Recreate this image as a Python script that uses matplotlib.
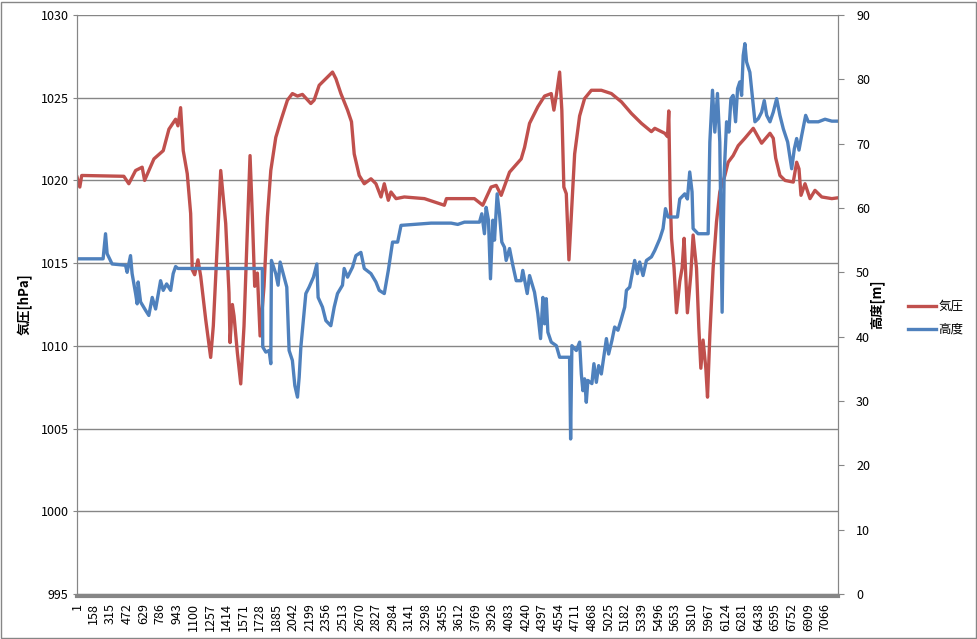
import matplotlib
matplotlib.use('Agg')
import matplotlib.pyplot as plt
from matplotlib.patches import Rectangle

plt.rcParams['font.family'] = ['Noto Sans CJK JP', 'DejaVu Sans']

n_samples = 7188
tick_labels = list(range(1, 7067, 157))

# 気圧 [hPa] (sample index, value)
pres_idx = [1, 27, 45, 443, 490, 554, 616, 639, 727, 815, 869, 932, 954, 979, 1004,
            1042, 1074, 1089, 1112, 1143, 1169, 1216, 1263, 1288, 1326, 1358, 1405,
            1436, 1446, 1468, 1484, 1515, 1547, 1578, 1604, 1635, 1657, 1679, 1704,
            1730, 1767, 1799, 1831, 1878, 1925, 1988, 2035, 2083, 2130, 2209, 2240,
            2288, 2366, 2414, 2446, 2493, 2556, 2593, 2619, 2666, 2714, 2777, 2824,
            2872, 2903, 2941, 2966, 3014, 3092, 3282, 3470, 3490, 3660, 3754, 3833,
            3912, 3960, 4007, 4086, 4196, 4228, 4275, 4353, 4417, 4480, 4505, 4528,
            4559, 4580, 4599, 4622, 4647, 4669, 4701, 4748, 4795, 4859, 4953, 5048,
            5143, 5237, 5332, 5426, 5458, 5552, 5578, 5590, 5603, 5616, 5640, 5663,
            5694, 5716, 5735, 5766, 5798, 5820, 5852, 5874, 5893, 5914, 5940, 5956,
            5978, 6009, 6041, 6072, 6120, 6151, 6198, 6246, 6309, 6388, 6467, 6546,
            6577, 6600, 6640, 6688, 6766, 6798, 6820, 6839, 6877, 6924, 6971, 7035,
            7130, 7188]
pres_val = [1020.2, 1019.6, 1020.3, 1020.25, 1019.8, 1020.6, 1020.8, 1020.0, 1021.3,
            1021.8, 1023.1, 1023.7, 1023.3, 1024.4, 1021.8, 1020.4, 1018.0, 1014.6,
            1014.3, 1015.2, 1014.2, 1011.6, 1009.3, 1011.2, 1016.2, 1020.6, 1017.4,
            1013.2, 1010.2, 1012.5, 1011.8, 1009.6, 1007.7, 1011.2, 1016.0, 1021.5,
            1017.8, 1013.6, 1014.4, 1010.6, 1013.6, 1017.8, 1020.6, 1022.6, 1023.6,
            1024.85, 1025.25, 1025.1, 1025.2, 1024.65, 1024.85, 1025.75, 1026.25,
            1026.55, 1026.15, 1025.25, 1024.25, 1023.55, 1021.6, 1020.3, 1019.8,
            1020.1, 1019.8, 1019.0, 1019.8, 1018.8, 1019.3, 1018.9, 1019.0, 1018.9,
            1018.5, 1018.9, 1018.9, 1018.9, 1018.5, 1019.6, 1019.7, 1019.1, 1020.5,
            1021.3, 1022.0, 1023.45, 1024.45, 1025.1, 1025.25, 1024.25, 1025.15,
            1026.55, 1024.25, 1019.6, 1019.2, 1015.2, 1017.8, 1021.6, 1023.9, 1024.95,
            1025.45, 1025.45, 1025.25, 1024.75, 1024.05, 1023.45, 1022.95, 1023.15,
            1022.85, 1022.65, 1024.2, 1019.1, 1016.5, 1014.7, 1012.0, 1013.9, 1014.7,
            1016.5, 1012.0, 1014.3, 1016.7, 1014.7, 1011.1, 1008.65, 1010.35, 1008.65,
            1006.9, 1010.65, 1014.7, 1017.5, 1019.3, 1020.3, 1021.1, 1021.5, 1022.1,
            1022.55, 1023.15, 1022.25, 1022.85, 1022.55, 1021.35, 1020.3, 1020.0,
            1019.9, 1021.1, 1020.7, 1019.1, 1019.8, 1018.9, 1019.4, 1019.0, 1018.9,
            1018.95]

# 高度 [m]
alt_idx = [1, 247, 270, 285, 332, 459, 474, 506, 521, 554, 569, 578, 601, 648, 679,
           711, 743, 790, 815, 847, 885, 909, 932, 954, 1751, 1755, 1784, 1815, 1831,
           1837, 1878, 1900, 1919, 1957, 1982, 2004, 2035, 2058, 2083, 2099, 2115,
           2162, 2193, 2234, 2266, 2278, 2319, 2351, 2398, 2430, 2461, 2508, 2524,
           2556, 2603, 2635, 2682, 2714, 2777, 2824, 2855, 2903, 2941, 2981, 3029,
           3061, 3187, 3345, 3534, 3597, 3660, 3802, 3824, 3849, 3865, 3887, 3906,
           3928, 3944, 3969, 3991, 4013, 4038, 4054, 4086, 4117, 4149, 4196, 4211,
           4253, 4275, 4322, 4353, 4379, 4401, 4417, 4433, 4448, 4480, 4528, 4559,
           4653, 4663, 4675, 4717, 4748, 4764, 4779, 4795, 4811, 4826, 4864, 4883,
           4906, 4928, 4953, 5001, 5022, 5053, 5079, 5110, 5143, 5174, 5190, 5221,
           5268, 5294, 5315, 5347, 5379, 5426, 5458, 5505, 5536, 5559, 5583, 5672,
           5694, 5741, 5766, 5788, 5810, 5820, 5867, 5962, 5978, 6003, 6025, 6050,
           6072, 6094, 6113, 6136, 6158, 6177, 6198, 6221, 6240, 6261, 6278, 6293,
           6309, 6325, 6356, 6388, 6404, 6436, 6467, 6492, 6515, 6546, 6577, 6609,
           6640, 6672, 6713, 6751, 6776, 6798, 6820, 6846, 6883, 6908, 7003, 7066,
           7130, 7188]
alt_val = [52.1, 52.1, 56.0, 52.9, 51.3, 51.1, 50.0, 52.6, 49.8, 46.7, 45.1, 48.5, 45.4,
           44.1, 43.3, 46.1, 44.3, 48.7, 47.2, 48.2, 47.2, 49.8, 50.9, 50.6, 50.6, 38.4,
           37.6, 37.85, 35.8, 51.85, 49.8, 48.0, 51.6, 49.25, 47.7, 37.85, 36.3, 32.4,
           30.6, 33.7, 38.4, 46.7, 47.7, 49.25, 51.3, 46.1, 44.6, 42.5, 41.7, 44.6, 46.7,
           48.0, 50.6, 49.25, 50.8, 52.6, 53.1, 50.6, 49.8, 48.5, 47.2, 46.7, 50.3, 54.7,
           54.7, 57.3, 57.45, 57.65, 57.65, 57.45, 57.8, 57.8, 59.1, 56.0, 60.1, 58.1,
           49.0, 58.1, 55.0, 62.2, 59.1, 54.7, 53.9, 51.85, 53.7, 51.1, 48.7, 48.7, 50.3,
           46.7, 49.5, 46.9, 43.6, 39.7, 46.1, 42.0, 45.9, 40.7, 39.15, 38.6, 36.8, 36.8,
           24.1, 38.6, 37.85, 39.15, 34.2, 31.6, 33.45, 29.8, 33.2, 32.7, 35.8, 32.9,
           35.5, 34.2, 39.7, 37.3, 39.4, 41.5, 41.0, 42.8, 44.6, 47.2, 47.7, 51.85, 49.8,
           51.6, 49.5, 51.85, 52.4, 53.4, 55.2, 56.8, 59.9, 58.6, 58.6, 61.4, 62.2, 61.4,
           65.6, 62.5, 56.8, 56.0, 56.0, 70.25, 78.3, 71.8, 77.8, 70.25, 43.8, 65.1, 73.4,
           71.8, 77.0, 77.5, 73.4, 78.55, 79.6, 77.5, 83.7, 85.55, 82.7, 81.1, 76.0, 73.4,
           73.9, 74.9, 76.7, 74.4, 73.4, 74.9, 77.0, 74.4, 72.3, 70.25, 66.1, 69.2, 70.8,
           69.0, 71.3, 74.4, 73.4, 73.4, 73.8, 73.5, 73.5]

red = '#C0504D'
blue = '#4F81BD'
grey = '#868686'

fig = plt.figure(figsize=(9.78, 6.39), dpi=100)
fig.patches.append(Rectangle((0.001, 0.002), 0.997, 0.995, transform=fig.transFigure,
                             fill=False, edgecolor=grey, linewidth=1))

ax = fig.add_axes([77 / 978, 45 / 639, 761 / 978, 579 / 639])
ax2 = ax.twinx()

l1, = ax.plot(pres_idx, pres_val, color=red, lw=2.4, solid_joinstyle='round')
l2, = ax2.plot(alt_idx, alt_val, color=blue, lw=2.4, solid_joinstyle='round')

ax.set_xlim(0.5, n_samples + 0.5)
ax.set_ylim(995, 1030)
ax.set_yticks(range(995, 1031, 5))
ax2.set_ylim(0, 90)
ax2.set_yticks(range(0, 91, 10))

ax.set_xticks(tick_labels)
ax.set_xticklabels([str(t) for t in tick_labels])
ax.tick_params(axis='x', length=0, pad=5, labelrotation=90, labelsize=9)
ax.tick_params(axis='y', length=3, color=grey, labelsize=9, pad=3)
ax2.tick_params(axis='y', length=4, color=grey, labelsize=9, pad=9)

ax.grid(axis='y', color=grey, lw=1)
ax.set_axisbelow(True)

for a in (ax, ax2):
    a.spines['top'].set_visible(False)
    for s in ('left', 'right'):
        a.spines[s].set_color(grey)
ax.spines['bottom'].set_color(grey)
ax.spines['bottom'].set_linewidth(3)
ax.spines['bottom'].set_position(('outward', 1.5))
ax2.spines['bottom'].set_visible(False)

ax.set_ylabel('気圧[hPa]', fontsize=9.5, fontweight='bold')
ax.yaxis.set_label_coords(-0.058, 0.5)
ax2.set_ylabel('高度[m]', fontsize=9.5, fontweight='bold')
ax2.yaxis.set_label_coords(1.041, 0.5)

fig.legend([l1, l2], ['気圧', '高度'], loc='center left',
           bbox_to_anchor=(897 / 978, 1 - 318 / 639), frameon=False,
           fontsize=9, handlelength=2.2, handletextpad=0.2, labelspacing=0.8)

fig.savefig('out.png', dpi=100)
